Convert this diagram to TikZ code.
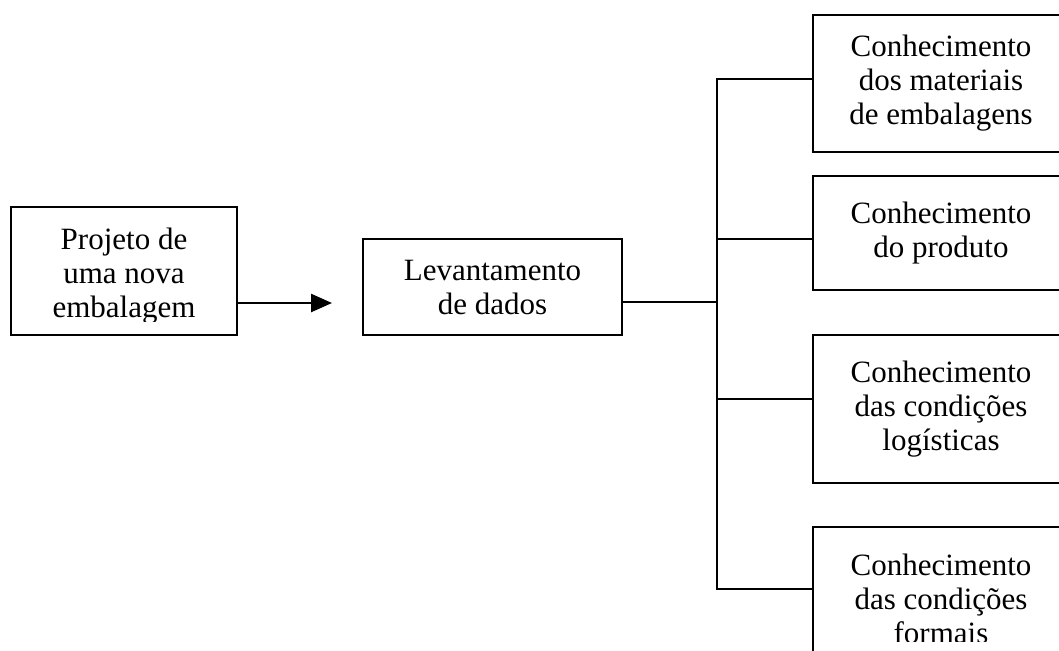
\documentclass[tikz,border=0pt]{standalone}
\usepackage{fontspec}
\setmainfont{Liberation Serif}
\usetikzlibrary{arrows.meta}
\begin{document}
\begin{tikzpicture}[x=1pt,y=-1pt,
  box/.style={draw=black, line width=2.6pt, inner sep=0pt, align=center},
  txt/.style={inner sep=0pt, align=center, font=\fontsize{31}{34}\selectfont},
  conn/.style={draw=black, line width=2.6pt},
  every node/.append style={font=\fontsize{31}{34}\selectfont}]
\useasboundingbox (0,0) rectangle (1059,650);
\clip (0,0) rectangle (1059,650);
\fill[white] (0,0) rectangle (1059,650);
% left box (text clipped at the bottom)
\node[box, minimum width=226pt, minimum height=128pt] (p1) at (124,271) {};
\begin{scope}
  \clip (11,207) rectangle (237,321);
  \node[txt] (p1t) at (124,276) {Projeto de\\uma nova\\embalagem};
\end{scope}
% middle box
\node[box, minimum width=259pt, minimum height=96pt] (p2) at (492.5,287) {Levantamento\\de dados};
% right boxes
\node[box, minimum width=256pt, minimum height=137pt] (ra) at (941,83.5) {Conhecimento\\dos materiais\\de embalagens};
\node[box, minimum width=256pt, minimum height=114pt] (rb) at (941,233) {Conhecimento\\do produto};
\node[box, minimum width=256pt, minimum height=148pt] (rc) at (941,409) {Conhecimento\\das condições\\logísticas};
\node[box, minimum width=256pt, minimum height=150pt] (rd) at (941,602) {};
\begin{scope}
  \clip (813,527) rectangle (1069,641);
  \node[txt] (rdt) at (941,599) {Conhecimento\\das condições\\formais};
\end{scope}
% arrow
\coordinate (a1) at (332,303);
\draw[conn, -{Triangle[length=21pt,width=18pt]}] (p1.east |- a1) -- (a1);
% trunk
\coordinate (ta) at (717,79);
\coordinate (tm) at (717,302);
\coordinate (tb) at (717,239);
\coordinate (tc) at (717,399);
\coordinate (td) at (717,589);
\draw[conn] (p2.east |- tm) -- (tm);
\draw[conn] (ra.west |- ta) -- (ta) -- (td) -- (rd.west |- td);
\draw[conn] (tb) -- (rb.west |- tb);
\draw[conn] (tc) -- (rc.west |- tc);
\end{tikzpicture}
\end{document}
